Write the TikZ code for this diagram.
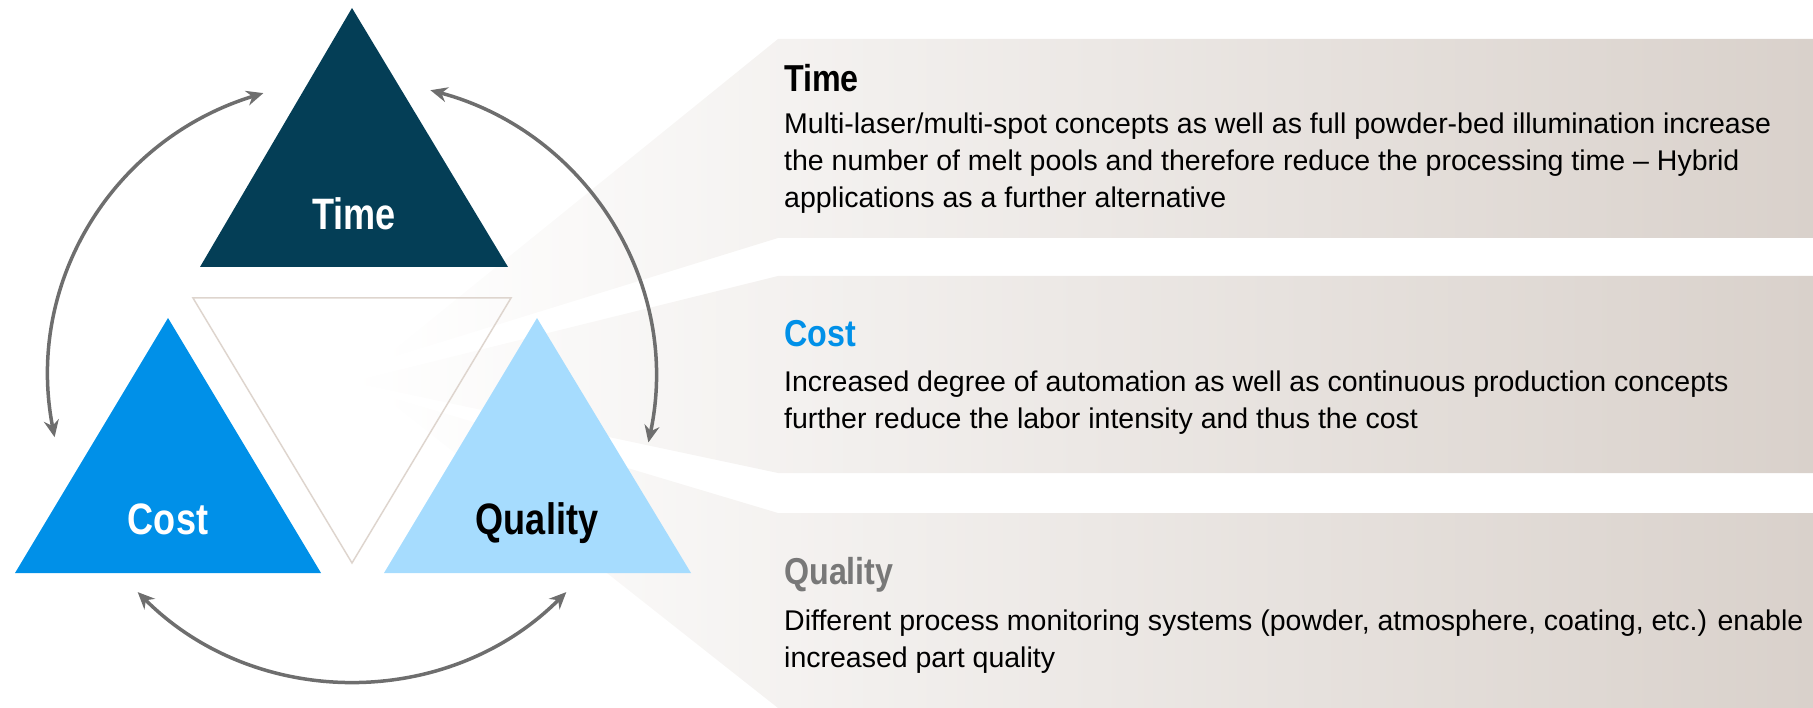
\documentclass[tikz,border=0pt]{standalone}
\usepackage{fontspec}
\setmainfont{Liberation Sans}
\newfontfamily\narrowfont[FakeStretch=0.82]{Liberation Sans}
\newfontfamily\headfont[FakeStretch=0.86]{Liberation Sans}
\usepackage{tikz}
\usetikzlibrary{arrows.meta, positioning}

\definecolor{timeblue}{RGB}{4,62,86}
\definecolor{costblue}{RGB}{0,144,232}
\definecolor{qualblue}{RGB}{166,220,254}
\definecolor{qualgray}{RGB}{120,120,120}
\definecolor{arrowgray}{RGB}{110,110,110}
\definecolor{outline}{RGB}{222,213,206}
\definecolor{panelbeige}{RGB}{217,209,203}

\begin{document}
\begin{tikzpicture}[
    x=1pt, y=1pt,
    tri/.style={font=\narrowfont\fontsize{44}{50}\selectfont\bfseries, anchor=base, inner sep=0pt},
    head/.style={font=\headfont\fontsize{37.5}{44}\selectfont\bfseries, anchor=base west, inner sep=0pt},
    body/.style={font=\fontsize{28.5}{37}\selectfont, align=left, inner sep=0pt},
    beam/.style={left color=white, right color=panelbeige},
    arr/.style={{Stealth[length=17pt, width=15pt]}-{Stealth[length=17pt, width=15pt]},
                line width=3.5pt, draw=arrowgray},
]
\useasboundingbox (0,0) rectangle (1813,-708);

% Panels and their beams
\shade[beam] (380,-361) -- (778,-39) -- (1813,-39) -- (1813,-238) -- (778,-238) -- cycle;
\shade[beam] (350,-382) -- (778,-276) -- (1813,-276) -- (1813,-473) -- (778,-473) -- cycle;
\shade[beam] (380,-394) -- (778,-513) -- (1813,-513) -- (1813,-708) -- (778,-708) -- cycle;

% Inner triangle
\draw[outline, line width=1.5pt] (193,-298) -- (511,-298) -- (352,-563) -- cycle;

% Triangles
\fill[timeblue] (200,-267) -- (352,-8) -- (508,-267) -- cycle;
\fill[costblue] (15,-573) -- (168,-318) -- (321,-573) -- cycle;
\fill[qualblue] (384,-573) -- (537,-318) -- (691,-573) -- cycle;
\node[tri, text=white] (time) at (354,-230) {Time};
\node[tri, text=white] (cost) at (168,-534) {Cost};
\node[tri] (quality) at (537,-534) {Quality};

% Arrows round the triangles
\coordinate (ltop) at (263.4,-93.1);
\coordinate (lbot) at (54.6,-437.2);
\coordinate (rtop) at (430.4,-90.2);
\coordinate (rbot) at (648.4,-442.4);
\coordinate (bleft) at (137.7,-592.1);
\coordinate (bright) at (566.3,-592.1);
\draw[arr] (ltop) to[out=197, in=101] (lbot);
\draw[arr] (rtop) to[out=-15, in=78] (rbot);
\draw[arr] (bleft) to[out=315, in=225] (bright);

% Panel texts
\node[head] (timehead) at (784,-92) {Time};
\node[body, below right=21pt and 0pt of timehead.base west] (timetext)
    {Multi-laser/multi-spot concepts as well as full powder-bed illumination increase\\
     the number of melt pools and therefore reduce the processing time -- Hybrid\\
     applications as a further alternative};
\node[head, text=costblue] (costhead) at (784,-347) {Cost};
\node[body, below right=24pt and 0pt of costhead.base west] (costtext)
    {Increased degree of automation as well as continuous production concepts\\
     further reduce the labor intensity and thus the cost};
\node[head, text=qualgray] (qualhead) at (784,-584) {Quality};
\node[body, below right=26pt and 0pt of qualhead.base west] (qualtext)
    {Different process monitoring systems (powder, atmosphere, coating, etc.) enable\\
     increased part quality};
\end{tikzpicture}
\end{document}
